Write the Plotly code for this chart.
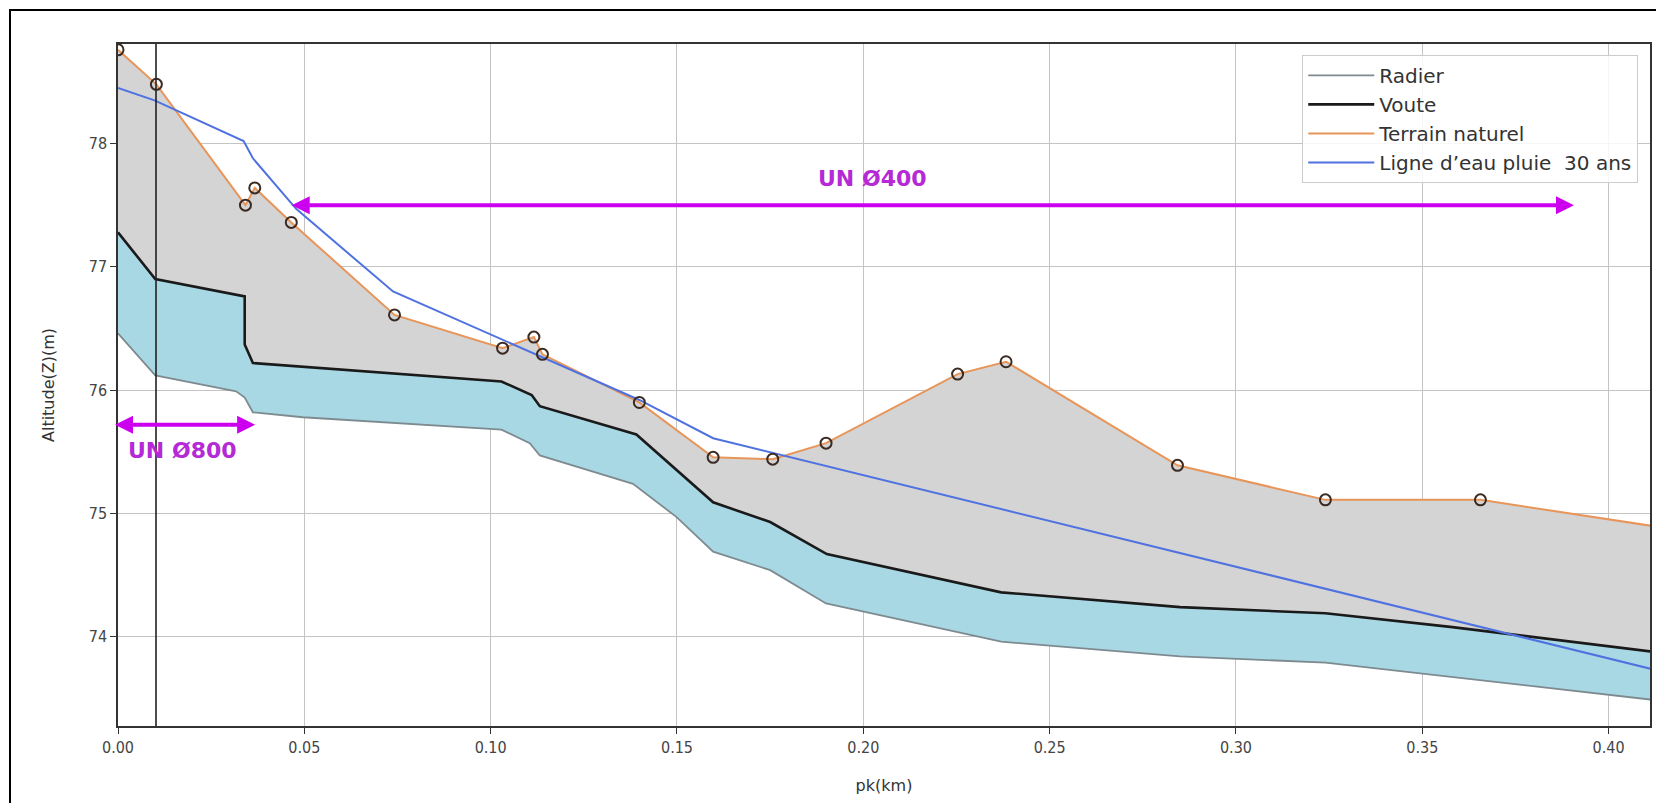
import plotly.graph_objects as go

# ---------------- data ----------------
terrain_pk = [0.0, 0.0103, 0.0342, 0.0367, 0.0465, 0.0742, 0.1032, 0.1116, 0.1139,
              0.1399, 0.1597, 0.1757, 0.1900, 0.2253, 0.2383, 0.2843, 0.3240, 0.3656, 0.4113]
terrain_z = [78.76, 78.48, 77.50, 77.64, 77.36, 76.61, 76.34, 76.43, 76.29,
             75.90, 75.455, 75.44, 75.57, 76.13, 76.23, 75.39, 75.11, 75.11, 74.90]

survey_pk = [0.0, 0.0103, 0.0342, 0.0367, 0.0465, 0.0742, 0.1032, 0.1116, 0.1139,
             0.1399, 0.1597, 0.1757, 0.1900, 0.2253, 0.2383, 0.2843, 0.3240, 0.3656]
survey_z = [78.76, 78.48, 77.50, 77.64, 77.36, 76.61, 76.34, 76.43, 76.29,
            75.90, 75.455, 75.44, 75.57, 76.13, 76.23, 75.39, 75.11, 75.11]

voute_pk = [0.0, 0.0100, 0.0340, 0.0340, 0.0362, 0.0496, 0.1029, 0.1110, 0.1132,
            0.1391, 0.1597, 0.1750, 0.1902, 0.2370, 0.2850, 0.3240, 0.3575, 0.4113]
voute_z = [77.28, 76.90, 76.76, 76.37, 76.22, 76.19, 76.07, 75.96, 75.87,
           75.64, 75.09, 74.93, 74.67, 74.36, 74.24, 74.19, 74.08, 73.88]

radier_pk = [0.0, 0.0100, 0.0317, 0.0340, 0.0362, 0.0496, 0.1029, 0.1105, 0.1132,
             0.1382, 0.1499, 0.1597, 0.1750, 0.1900, 0.2370, 0.2850, 0.3240, 0.4113]
radier_z = [76.46, 76.12, 75.99, 75.94, 75.82, 75.78, 75.68, 75.57, 75.47,
            75.24, 74.97, 74.69, 74.54, 74.27, 73.96, 73.84, 73.79, 73.49]

eau_pk = [0.0, 0.0098, 0.0337, 0.0362, 0.0478, 0.0738, 0.1399, 0.1597, 0.4113]
eau_z = [78.45, 78.35, 78.02, 77.88, 77.47, 76.80, 75.92, 75.61, 73.74]

structure_pk = [0.0102]

un400_pk = [0.0462, 0.3907]
un400_z = [77.50]
un400_label_pos = [0.2025, 77.716]

un800_pk = [-0.0012, 0.0368]
un800_z = [75.72]
un800_label_pos = [0.0172, 75.51]

x_ticks = [0.0, 0.05, 0.10, 0.15, 0.20, 0.25, 0.30, 0.35, 0.40]
y_ticks = [74, 75, 76, 77, 78]
x_range = [0.0, 0.4111]
y_range = [73.276, 78.807]

# ---------------- styles ----------------
C_GRAY_FILL = "#d4d4d4"
C_BLUE_FILL = "#a9d8e5"
C_TERRAIN = "#e8955a"
C_EAU = "#4f72e0"
C_VOUTE = "#1a1a1a"
C_RADIER = "#7d8b90"
C_ARROW = "#cc00ee"
C_LABEL = "#b52ad6"
TICK_FONT = dict(family="DejaVu Sans Condensed, DejaVu Sans", size=16, color="#444444")

fig = go.Figure()

# gray area between terrain and voute
fig.add_trace(go.Scatter(
    x=terrain_pk + voute_pk[::-1], y=terrain_z + voute_z[::-1],
    fill="toself", fillcolor=C_GRAY_FILL, mode="none",
    hoverinfo="skip", showlegend=False))
# blue area between voute and radier
fig.add_trace(go.Scatter(
    x=voute_pk + radier_pk[::-1], y=voute_z + radier_z[::-1],
    fill="toself", fillcolor=C_BLUE_FILL, mode="none",
    hoverinfo="skip", showlegend=False))

fig.add_trace(go.Scatter(x=radier_pk, y=radier_z, mode="lines", name="Radier",
                         line=dict(color=C_RADIER, width=1.8)))
fig.add_trace(go.Scatter(x=voute_pk, y=voute_z, mode="lines", name="Voute",
                         line=dict(color=C_VOUTE, width=2.6)))
fig.add_trace(go.Scatter(x=terrain_pk, y=terrain_z, mode="lines", name="Terrain naturel",
                         line=dict(color=C_TERRAIN, width=2)))
fig.add_trace(go.Scatter(x=eau_pk, y=eau_z, mode="lines", name="Ligne d\u2019eau pluie  30 ans",
                         line=dict(color=C_EAU, width=2)))
fig.add_trace(go.Scatter(x=survey_pk, y=survey_z, mode="markers", showlegend=False,
                         marker=dict(symbol="circle", size=11, color="rgba(0,0,0,0)",
                                     line=dict(color="#3a2a22", width=2))))

shapes = []
for pk in structure_pk:
    shapes.append(dict(type="line", xref="x", yref="paper", x0=pk, x1=pk, y0=0, y1=1,
                       line=dict(color="#222222", width=1.6)))
# outer frame of the picture
shapes.append(dict(type="rect", xref="paper", yref="paper", x0=-0.0705, x1=1.05,
                   y0=-0.2, y1=1.0499, line=dict(color="black", width=2)))

annotations = [
    dict(x=un400_pk[1], y=un400_z[0], ax=un400_pk[0], ay=un400_z[0], xref="x", yref="y",
         axref="x", ayref="y", text="", showarrow=True, arrowhead=2, arrowside="end+start",
         arrowwidth=4, arrowsize=0.9, arrowcolor=C_ARROW, standoff=0, startstandoff=0),
    dict(x=un800_pk[1], y=un800_z[0], ax=un800_pk[0], ay=un800_z[0], xref="x", yref="y",
         axref="x", ayref="y", text="", showarrow=True, arrowhead=2, arrowside="end+start",
         arrowwidth=4, arrowsize=0.9, arrowcolor=C_ARROW, standoff=0, startstandoff=0),
    dict(x=un400_label_pos[0], y=un400_label_pos[1], xref="x", yref="y",
         text="<b>UN \u00d8400</b>", showarrow=False,
         font=dict(family="DejaVu Sans", size=22, color=C_LABEL)),
    dict(x=un800_label_pos[0], y=un800_label_pos[1], xref="x", yref="y",
         text="<b>UN \u00d8800</b>", showarrow=False,
         font=dict(family="DejaVu Sans", size=22, color=C_LABEL)),
]

fig.update_layout(
    width=1656, height=803,
    margin=dict(l=118, r=6, t=44, b=77, autoexpand=False),
    paper_bgcolor="white", plot_bgcolor="white",
    shapes=shapes, annotations=annotations,
    showlegend=True,
    legend=dict(x=0.773, y=0.984, xanchor="left", yanchor="top",
                bgcolor="rgba(255,255,255,0.85)", bordercolor="#cccccc", borderwidth=1,
                font=dict(family="DejaVu Sans", size=20, color="#333333"),
                itemwidth=66, tracegroupgap=0),
    xaxis=dict(range=x_range, tickvals=x_ticks, tickformat=".2f", automargin=False,
               showgrid=True, gridcolor="#c4c4c4", gridwidth=1, zeroline=False,
               showline=True, mirror=True, linecolor="#333333", linewidth=1.5,
               ticks="outside", ticklen=6, tickcolor="#333333", tickfont=TICK_FONT,
               title=dict(text="pk(km)", standoff=24,
                          font=dict(family="DejaVu Sans", size=16, color="#333333"))),
    yaxis=dict(range=y_range, tickvals=y_ticks, automargin=False,
               showgrid=True, gridcolor="#c4c4c4", gridwidth=1, zeroline=False,
               showline=True, mirror=True, linecolor="#333333", linewidth=1.5,
               ticks="outside", ticklen=6, tickcolor="#333333", tickfont=TICK_FONT,
               title=dict(text="Altitude(Z)(m)", standoff=30,
                          font=dict(family="DejaVu Sans", size=16, color="#333333"))),
)

fig.write_html("out.html", config={"displayModeBar": False},
               post_script="document.body.style.margin='0';document.body.style.overflow='hidden';")
